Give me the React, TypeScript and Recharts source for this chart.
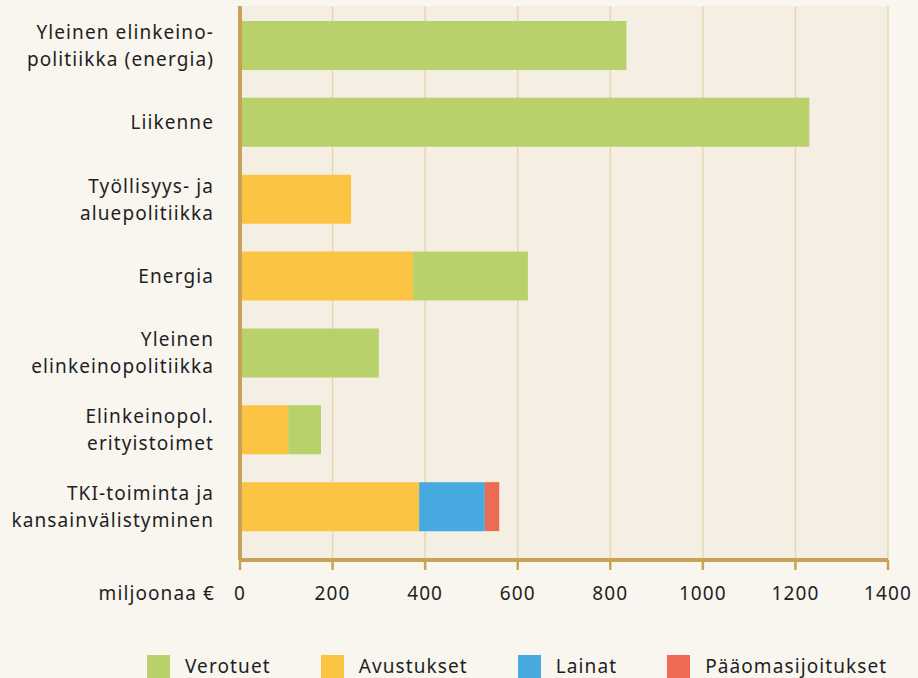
import { BarChart, Bar, XAxis, YAxis, CartesianGrid } from 'recharts';

const categories = [
  'Yleinen elinkeino-\npolitiikka (energia)',
  'Liikenne',
  'Työllisyys- ja\naluepolitiikka',
  'Energia',
  'Yleinen\nelinkeinopolitiikka',
  'Elinkeinopol.\nerityistoimet',
  'TKI-toiminta ja\nkansainvälistyminen',
];
const avustukset = [0, 0, 240, 374, 0, 104, 387];
const verotuet = [835, 1230, 0, 248, 300, 71, 0];
const lainat = [0, 0, 0, 0, 0, 0, 142];
const paaomasijoitukset = [0, 0, 0, 0, 0, 0, 31];
const xTicks = [0, 200, 400, 600, 800, 1000, 1200, 1400];

const FONT = '"Noto Sans", sans-serif';
const AXIS = '#c9a257';
const TEXT = '#1f1f1f';
const SPACING = '1.1px';

const legendItems = [
  { name: 'Verotuet', color: '#b9d16b' },
  { name: 'Avustukset', color: '#fbc443' },
  { name: 'Lainat', color: '#46a9df' },
  { name: 'Pääomasijoitukset', color: '#ed6a53' },
];

const data = categories.map((name, i) => ({
  name,
  avustukset: avustukset[i],
  verotuet: verotuet[i],
  lainat: lainat[i],
  paaoma: paaomasijoitukset[i],
}));

function CategoryTick({ x, y, payload }: any) {
  const lines = String(payload.value).split('\n');
  const lh = 27;
  const start = -((lines.length - 1) * lh) / 2;
  return (
    <text
      x={x}
      y={y}
      textAnchor="end"
      fill={TEXT}
      fontSize={19}
      fontFamily={FONT}
      style={{ letterSpacing: SPACING }}
    >
      {lines.map((l, i) => (
        <tspan key={i} x={x} dy={i === 0 ? start + 7 : lh}>
          {l}
        </tspan>
      ))}
    </text>
  );
}

function ValueTick({ x, y, payload, index }: any) {
  return (
    <g style={{ letterSpacing: SPACING }}>
      {index === 0 && (
        <text x={x - 25} y={y} dy={14} textAnchor="end" fill={TEXT} fontSize={19} fontFamily={FONT}>
          miljoonaa €
        </text>
      )}
      <text x={x} y={y} dy={14} textAnchor="middle" fill={TEXT} fontSize={19} fontFamily={FONT}>
        {payload.value}
      </text>
    </g>
  );
}

export default function App() {
  return (
    <div
      style={{
        position: 'fixed',
        left: 0,
        top: 0,
        width: 918,
        height: 678,
        background: '#f9f5ef',
        overflow: 'hidden',
      }}
    >
      <BarChart
        width={918}
        height={620}
        data={data}
        layout="vertical"
        barSize={49}
        margin={{ top: 6, right: 30, left: 0, bottom: 0 }}
      >
        <CartesianGrid horizontal={false} stroke="#e8d6b3" strokeWidth={1.5} fill="#f5eee3" />
        <XAxis
          type="number"
          domain={[0, 1400]}
          ticks={xTicks}
          height={60}
          axisLine={{ stroke: AXIS, strokeWidth: 4 }}
          tickLine={{ stroke: AXIS, strokeWidth: 2.5 }}
          tickSize={10}
          tickMargin={16}
          tick={<ValueTick />}
        />
        <YAxis
          type="category"
          dataKey="name"
          width={240}
          padding={{ top: 1, bottom: 15 }}
          axisLine={{ stroke: AXIS, strokeWidth: 4 }}
          tickLine={false}
          tickSize={0}
          tickMargin={26}
          tick={<CategoryTick />}
          interval={0}
        />
        <Bar dataKey="avustukset" stackId="a" fill="#fbc443" isAnimationActive={false} />
        <Bar dataKey="verotuet" stackId="a" fill="#b9d16b" isAnimationActive={false} />
        <Bar dataKey="lainat" stackId="a" fill="#46a9df" isAnimationActive={false} />
        <Bar dataKey="paaoma" stackId="a" fill="#ed6a53" isAnimationActive={false} />
      </BarChart>
      <div
        style={{
          position: 'absolute',
          top: 655,
          left: 147,
          display: 'flex',
          alignItems: 'center',
          fontFamily: FONT,
          fontSize: 19,
          color: TEXT,
          lineHeight: '23px',
          letterSpacing: SPACING,
        }}
      >
        {legendItems.map((it) => (
          <div key={it.name} style={{ display: 'flex', alignItems: 'center', marginRight: 50 }}>
            <div style={{ width: 23, height: 23, background: it.color, marginRight: 15 }} />
            <span>{it.name}</span>
          </div>
        ))}
      </div>
    </div>
  );
}
